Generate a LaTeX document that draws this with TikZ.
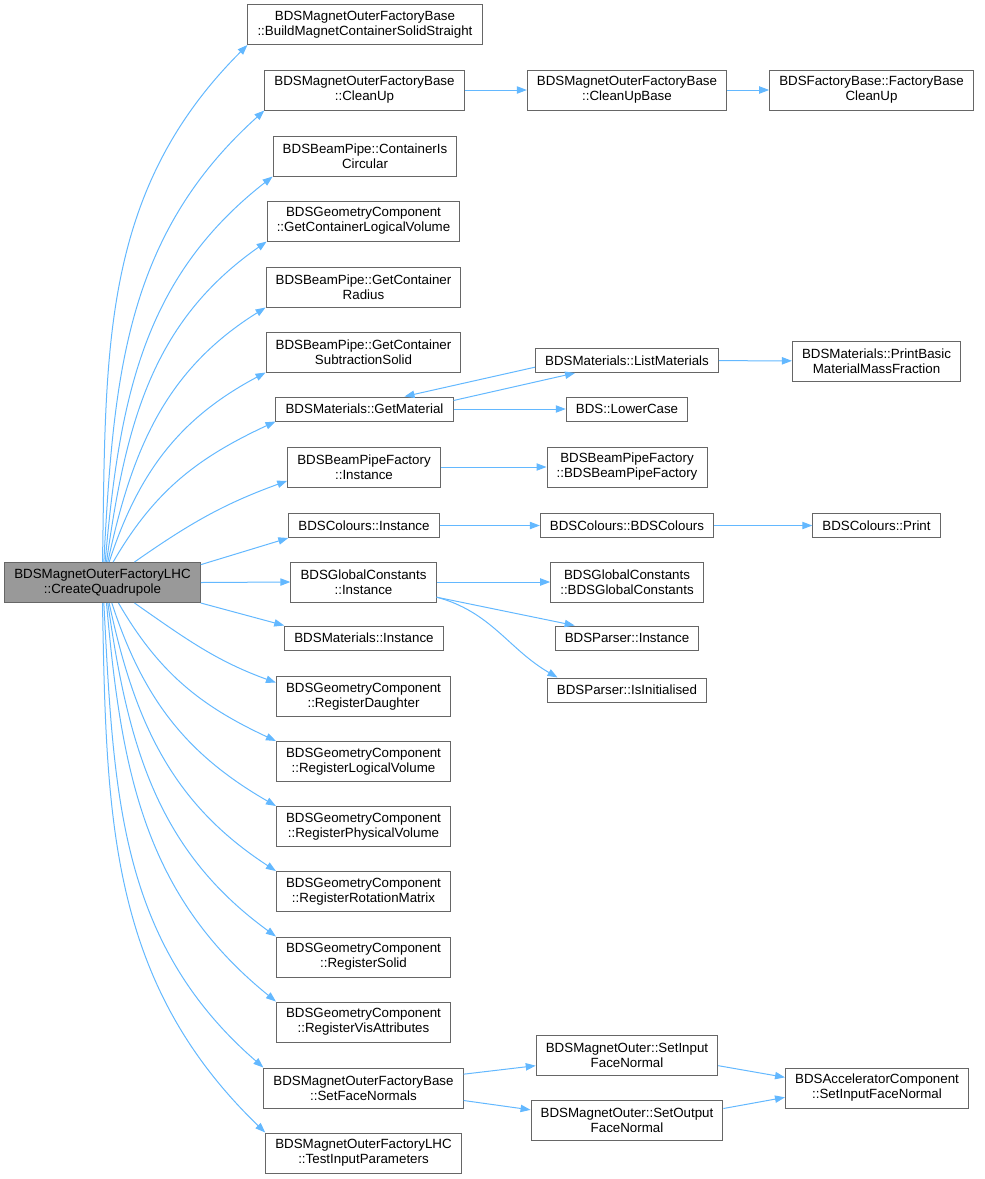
\documentclass[tikz,border=0pt]{standalone}
\usepackage{fontspec}
\setmainfont{Liberation Sans}
\usetikzlibrary{arrows.meta}
\definecolor{edgeblue}{HTML}{63B8FF}
\definecolor{boxgray}{HTML}{666666}
\definecolor{mainfill}{HTML}{999999}
\begin{document}
\begin{tikzpicture}[x=0.75pt,y=-0.75pt,
  func/.style={draw=boxgray,line width=0.75pt,align=center,inner xsep=7.2pt,inner ysep=0pt,
    minimum height=18pt,font=\fontsize{10}{11.25}\selectfont},
  func2/.style={func,minimum height=30pt},
  call/.style={draw=edgeblue,line width=0.75pt,-{Triangle[length=7.5pt,width=5.5pt]}}]
\useasboundingbox (0,0) rectangle (985,1179);
% caller
\node[func2,fill=mainfill] (main) at(102.5,582.5){BDSMagnetOuterFactoryLHC\\::CreateQuadrupole};
% first level
\node[func2] (build) at(365,24.5){BDSMagnetOuterFactoryBase\\::BuildMagnetContainerSolidStraight};
\node[func2] (cleanup) at(364.5,90){BDSMagnetOuterFactoryBase\\::CleanUp};
\node[func2] (circ) at(365,156){BDSBeamPipe::ContainerIs\\Circular};
\node[func2] (logical) at(363.5,221){BDSGeometryComponent\\::GetContainerLogicalVolume};
\node[func2] (radius) at(363.5,287){BDSBeamPipe::GetContainer\\Radius};
\node[func2] (subsolid) at(363.5,352){BDSBeamPipe::GetContainer\\SubtractionSolid};
\node[func] (getmat) at(364.5,409){BDSMaterials::GetMaterial};
\node[func2] (bpfinst) at(364,467){BDSBeamPipeFactory\\::Instance};
\node[func] (colinst) at(364,525.5){BDSColours::Instance};
\node[func2] (gcinst) at(363.5,582){BDSGlobalConstants\\::Instance};
\node[func] (matinst) at(364,638){BDSMaterials::Instance};
\node[func2] (regdaughter) at(363.5,696.5){BDSGeometryComponent\\::RegisterDaughter};
\node[func2] (reglog) at(363.5,761.5){BDSGeometryComponent\\::RegisterLogicalVolume};
\node[func2] (regphys) at(363.5,826.5){BDSGeometryComponent\\::RegisterPhysicalVolume};
\node[func2] (regrot) at(363.5,891.5){BDSGeometryComponent\\::RegisterRotationMatrix};
\node[func2] (regsolid) at(363.5,957){BDSGeometryComponent\\::RegisterSolid};
\node[func2] (regvis) at(363.5,1022){BDSGeometryComponent\\::RegisterVisAttributes};
\node[func2] (setface) at(363.5,1088){BDSMagnetOuterFactoryBase\\::SetFaceNormals};
\node[func2] (testinput) at(363.5,1153){BDSMagnetOuterFactoryLHC\\::TestInputParameters};
% second level
\node[func2] (cleanupbase) at(627,90){BDSMagnetOuterFactoryBase\\::CleanUpBase};
\node[func] (listmat) at(627,360.5){BDSMaterials::ListMaterials};
\node[func] (lowercase) at(627,409){BDS::LowerCase};
\node[func2] (bpfctor) at(627,467){BDSBeamPipeFactory\\::BDSBeamPipeFactory};
\node[func] (colctor) at(627,525.5){BDSColours::BDSColours};
\node[func2] (gcctor) at(627,582){BDSGlobalConstants\\::BDSGlobalConstants};
\node[func] (parserinst) at(627,638){BDSParser::Instance};
\node[func] (isinit) at(627,690){BDSParser::IsInitialised};
\node[func2] (setin) at(627,1055){BDSMagnetOuter::SetInput\\FaceNormal};
\node[func2] (setout) at(627,1120.5){BDSMagnetOuter::SetOutput\\FaceNormal};
% third level
\node[func2] (fbcleanup) at(871.5,90){BDSFactoryBase::FactoryBase\\CleanUp};
\node[func2] (massfrac) at(876.5,361){BDSMaterials::PrintBasic\\MaterialMassFraction};
\node[func] (colprint) at(876.5,525.5){BDSColours::Print};
\node[func2] (accel) at(877,1088){BDSAcceleratorComponent\\::SetInputFaceNormal};
% calls going up
\draw[call] (main.north) to[out=89,in=225] (build.south west);
\draw[call] ([xshift=1]main.north) to[out=87,in=222] (cleanup.south west);
\draw[call] ([xshift=2]main.north) to[out=85,in=218] (circ.south west);
\draw[call] ([xshift=3]main.north) to[out=82,in=215] (logical.south west);
\draw[call] ([xshift=4]main.north) to[out=78,in=212] (radius.south west);
\draw[call] ([xshift=5]main.north) to[out=72,in=208] (subsolid.south west);
\draw[call] ([xshift=8]main.north) to[out=60,in=205] (getmat.south west);
\draw[call] ([xshift=24]main.north) to[out=35,in=200] ([yshift=5]bpfinst.south west);
\draw[call] ([yshift=-2]main.north east) -- (colinst.south west);
\draw[call] (main.east) -- (gcinst.west);
\draw[call] (main.south east) -- (matinst.north west);
% calls going down
\draw[call] ([xshift=24]main.south) to[out=-35,in=160] ([yshift=-5]regdaughter.north west);
\draw[call] ([xshift=12]main.south) to[out=-60,in=155] (reglog.north west);
\draw[call] ([xshift=7]main.south) to[out=-72,in=150] (regphys.north west);
\draw[call] ([xshift=5]main.south) to[out=-78,in=147] (regrot.north west);
\draw[call] ([xshift=4]main.south) to[out=-82,in=144] (regsolid.north west);
\draw[call] ([xshift=3]main.south) to[out=-85,in=141] (regvis.north west);
\draw[call] ([xshift=1]main.south) to[out=-87,in=139] (setface.north west);
\draw[call] (main.south) to[out=-89,in=136] (testinput.north west);
% further calls
\draw[call] (cleanup) -- (cleanupbase);
\draw[call] (cleanupbase) -- (fbcleanup);
\draw[call] ([yshift=-3]getmat.north east) -- ([xshift=30]listmat.south west);
\draw[call] ([yshift=-5]listmat.west) -- ([xshift=30]getmat.north);
\draw[call] (getmat) -- (lowercase);
\draw[call] (listmat) -- (massfrac);
\draw[call] (bpfinst) -- (bpfctor);
\draw[call] (colinst) -- (colctor);
\draw[call] (colctor) -- (colprint);
\draw[call] (gcinst) -- (gcctor);
\draw[call] ([yshift=4]gcinst.south east) -- ([xshift=15]parserinst.north west);
\draw[call] ([yshift=4]gcinst.south east) to[out=-15,in=150] ([xshift=8]isinit.north west);
\draw[call] ([yshift=-5]setface.north east) -- ([yshift=-8]setin.west);
\draw[call] ([yshift=6]setface.south east) -- ([yshift=8]setout.west);
\draw[call] ([yshift=-8]setin.east) -- ([yshift=8]accel.west);
\draw[call] ([yshift=9]setout.east) -- ([yshift=-7]accel.west);
\end{tikzpicture}
\end{document}
